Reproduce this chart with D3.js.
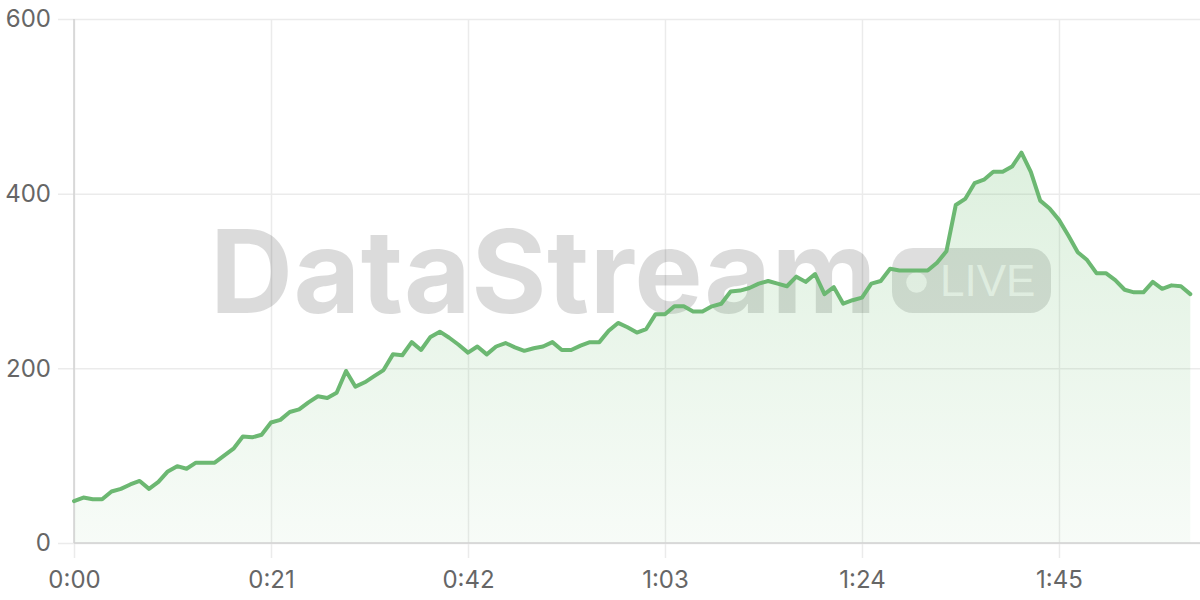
<!DOCTYPE html>
<html>
<head>
<meta charset="utf-8">
<script src="https://cdn.jsdelivr.net/npm/d3@7/dist/d3.min.js"></script>
<style>
  html, body { margin: 0; padding: 0; background: #fff; }
  svg { display: block; }
  .tick text { font-family: Inter, "Liberation Sans", Arial, sans-serif; font-size: 24px; fill: #666; }
</style>
</head>
<body>
<svg id="chart" width="1200" height="600"></svg>
<script>
// ---- data ----
const times = d3.range(0, 120); // seconds
const values = [48,52,50,50,59,62,67,71,62,70,
  82,88,85,92,92,92,100,108,122,121,
  124,138,141,150,153,161,168,166,172,197,
  179,184,191,198,216,215,230,221,236,242,
  235,227,218,225,216,225,229,224,220,223,
  225,230,221,221,226,230,230,243,252,247,
  241,245,262,262,271,271,265,265,271,274,
  288,289,292,297,300,297,294,305,299,308,
  285,293,274,278,281,297,300,314,312,312,
  312,312,321,334,387,394,412,416,425,425,
  431,447,425,392,383,370,352,333,324,309,
  309,301,290,287,287,299,291,295,294,285];
const xTickValues = [0, 21, 42, 63, 84, 105];
const xTickLabels = ["0:00", "0:21", "0:42", "1:03", "1:24", "1:45"];
const yTickValues = [0, 200, 400, 600];
const watermarkText = "DataStream";
const liveText = "LIVE";

// ---- layout ----
const W = 1200, H = 600;
const plotLeft = 74, plotRight = 1190.3, plotTop = 19, plotBottom = 543;
const svg = d3.select("#chart");

const x = d3.scaleLinear().domain([0, 119]).range([plotLeft, plotRight]);
const y = d3.scaleLinear().domain([0, 600]).range([plotBottom, plotTop]);

const gridColor = "#ebebeb";

// y grid + labels
const yAxis = d3.axisLeft(y).tickValues(yTickValues).tickSize(W - 58).tickPadding(7).tickFormat(d3.format("d"));
const gy = svg.append("g").attr("transform", `translate(${W},0)`).call(yAxis);
gy.select(".domain").remove();
gy.selectAll(".tick line").attr("stroke", gridColor).attr("stroke-width", 1.5);

// x grid + labels
const xAxis = d3.axisBottom(x).tickValues(xTickValues).tickSize(558 - plotTop).tickPadding(13)
  .tickFormat((d, i) => xTickLabels[i]);
const gx = svg.append("g").attr("transform", `translate(0,${plotTop})`).call(xAxis);
gx.select(".domain").remove();
gx.selectAll(".tick line").attr("stroke", gridColor).attr("stroke-width", 1.5);

// watermark
const wm = svg.append("g");
wm.append("text")
  .attr("x", 210).attr("y", 313)
  .attr("font-family", "Inter, 'Liberation Sans', Arial, sans-serif")
  .attr("font-weight", 700).attr("font-size", 115)
  .attr("letter-spacing", 0.5)
  .attr("fill", "rgba(0,0,0,0.14)")
  .text(watermarkText);
wm.append("rect")
  .attr("x", 892).attr("y", 248).attr("width", 159).attr("height", 65).attr("rx", 21)
  .attr("fill", "rgba(0,0,0,0.13)");
wm.append("circle").attr("cx", 916.5).attr("cy", 282.5).attr("r", 10.3)
  .attr("fill", "rgba(255,255,255,0.75)");
wm.append("text")
  .attr("x", 940).attr("y", 295.5)
  .attr("font-family", "'Liberation Sans', Arial, sans-serif")
  .attr("font-size", 44)
  .attr("fill", "rgba(255,255,255,0.75)")
  .text(liveText);

// gradient
const defs = svg.append("defs");
const grad = defs.append("linearGradient").attr("id", "areaGrad")
  .attr("gradientUnits", "userSpaceOnUse")
  .attr("x1", 0).attr("x2", 0).attr("y1", y(450)).attr("y2", y(0));
grad.append("stop").attr("offset", "0%").attr("stop-color", "rgb(102,187,106)").attr("stop-opacity", 0.22);
grad.append("stop").attr("offset", "100%").attr("stop-color", "rgb(102,187,106)").attr("stop-opacity", 0.05);

const area = d3.area().x((d, i) => x(times[i])).y0(y(0)).y1(d => y(d));
const line = d3.line().x((d, i) => x(times[i])).y(d => y(d));

svg.append("path").datum(values).attr("d", area).attr("fill", "url(#areaGrad)");

// borders
svg.append("line").attr("x1", plotLeft).attr("x2", plotLeft).attr("y1", plotTop).attr("y2", plotBottom)
  .attr("stroke", "#d2d2d2").attr("stroke-width", 1.5);
svg.append("line").attr("x1", plotLeft).attr("x2", W).attr("y1", y(0)).attr("y2", y(0))
  .attr("stroke", "#d2d2d2").attr("stroke-width", 1.5);

svg.append("path").datum(values).attr("d", line)
  .attr("fill", "none").attr("stroke", "#6cb872").attr("stroke-width", 4)
  .attr("stroke-linejoin", "round").attr("stroke-linecap", "round");
</script>
</body>
</html>
